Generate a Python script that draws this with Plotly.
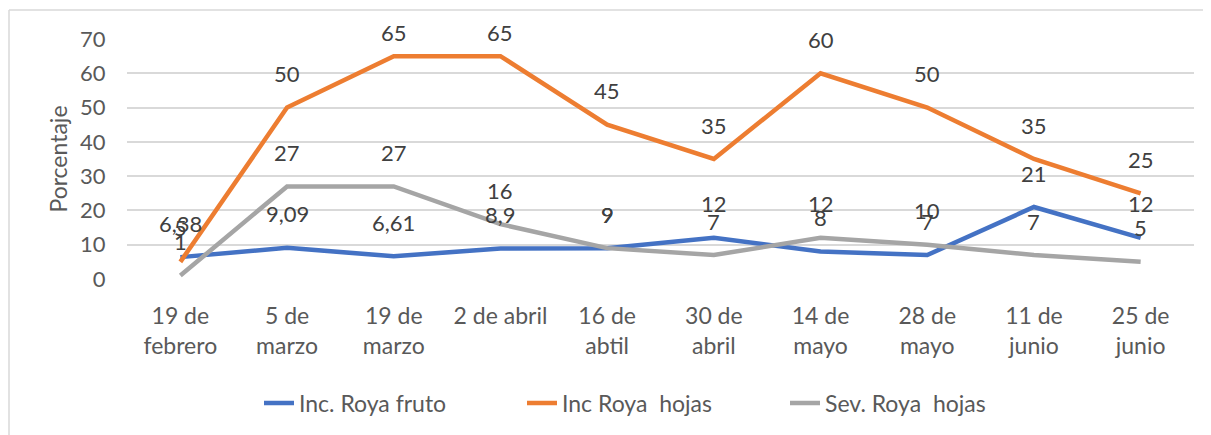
import plotly.graph_objects as go

categories = ["19 de<br>febrero", "5 de<br>marzo", "19 de<br>marzo", "2 de abril", "16 de<br>abtil",
              "30 de<br>abril", "14 de<br>mayo", "28 de<br>mayo", "11 de<br>junio", "25 de<br>junio"]
inc_fruto = [6.38, 9.09, 6.61, 8.9, 9, 12, 8, 7, 21, 12]
inc_fruto_lbl = ["6,38", "9,09", "6,61", "8,9", "9", "12", "8", "7", "21", "12"]
inc_hojas = [5, 50, 65, 65, 45, 35, 60, 50, 35, 25]
inc_hojas_lbl = ["5", "50", "65", "65", "45", "35", "60", "50", "35", "25"]
sev_hojas = [1, 27, 27, 16, 9, 7, 12, 10, 7, 5]
sev_hojas_lbl = ["1", "27", "27", "16", "9", "7", "12", "10", "7", "5"]

series = [
    ("Inc. Roya fruto", inc_fruto, inc_fruto_lbl, "#4472C4"),
    ("Inc Roya  hojas", inc_hojas, inc_hojas_lbl, "#ED7D31"),
    ("Sev. Roya  hojas", sev_hojas, sev_hojas_lbl, "#A5A5A5"),
]

FONT = "Lato"
TXT = "#595959"
fig = go.Figure()
annotations = []
for name, vals, lbls, col in series:
    fig.add_trace(go.Scatter(x=categories, y=vals, mode="lines", name=name,
                             line=dict(color=col, width=4.5)))
    for c, v, t in zip(categories, vals, lbls):
        shift = min(34, (70 - v) * 240 / 70 + 6)
        annotations.append(dict(x=c, y=v, text=t, showarrow=False, yshift=shift,
                                font=dict(family=FONT, size=22, color="#404040")))

# page body adds an 8px offset; figure size and margins compensate so the plot area
# lands at x 127-1194, y 39-279 of the window
bx0, bx1 = (9 - 127) / 1067, (1211 - 127) / 1067
by0, by1 = (279 - 435) / 240, (279 - 10) / 240
fig.update_layout(
    width=1203, height=427,
    margin=dict(l=119, r=17, t=31, b=156, autoexpand=False),
    paper_bgcolor="white", plot_bgcolor="white",
    font=dict(family=FONT, color=TXT),
    annotations=annotations,
    showlegend=True,
    legend=dict(orientation="h", x=(259 - 127) / 1067, xanchor="left",
                y=(279 - 403) / 240, yanchor="middle",
                font=dict(family=FONT, size=23, color=TXT),
                entrywidth=218, traceorder="normal"),
    shapes=[
        dict(type="line", xref="paper", yref="paper", x0=bx0, x1=bx1, y0=by1, y1=by1,
             line=dict(color="#D9D9D9", width=1.5), layer="below"),
        dict(type="line", xref="paper", yref="paper", x0=bx0, x1=bx0, y0=by0, y1=by1,
             line=dict(color="#D9D9D9", width=1.5), layer="below"),
    ],
)
fig.update_xaxes(showgrid=False, showline=False, zeroline=False, automargin=False,
                 range=[-0.5, len(categories) - 0.5],
                 tickfont=dict(family=FONT, size=23, color=TXT), ticks="",
                 ticklabelstandoff=21)
fig.update_yaxes(range=[0, 70], dtick=10, showgrid=True, gridcolor="#D9D9D9", gridwidth=1.5,
                 zeroline=False, showline=False, automargin=False,
                 tickfont=dict(family=FONT, size=22, color=TXT),
                 ticks="outside", ticklen=16, tickcolor="rgba(0,0,0,0)",
                 title=dict(text="Porcentaje", font=dict(family=FONT, size=23, color=TXT),
                            standoff=6))
fig.write_html("out.html")
